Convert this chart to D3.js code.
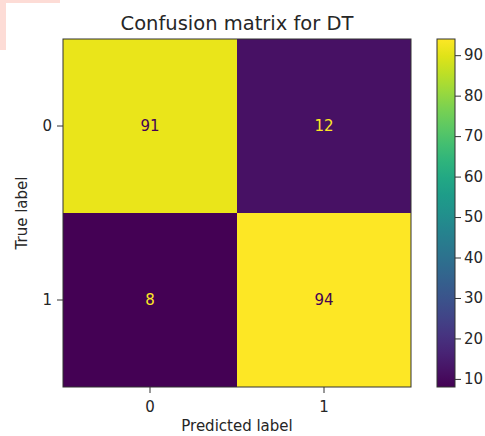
<!DOCTYPE html>
<html><head><meta charset="utf-8">
<script src="https://cdn.jsdelivr.net/npm/d3@7"></script>
<style>body{margin:0;background:#fff}svg{display:block;font-family:"DejaVu Sans",sans-serif}</style>
</head><body>
<svg id="c" width="485" height="436"></svg>
<script>
const trueLabels = ["0", "1"];
const predLabels = ["0", "1"];
const matrix = [[91, 12], [8, 94]];
const cbTicks = [10, 20, 30, 40, 50, 60, 70, 80, 90];
const title = "Confusion matrix for DT";

const svg = d3.select("#c");
// watermark remnants
svg.append("rect").attr("x",0).attr("y",0).attr("width",6).attr("height",50).attr("fill","#fddcd6");
svg.append("rect").attr("x",0).attr("y",0).attr("width",60).attr("height",3).attr("fill","#fddcd6");

const L = 63, T = 39, S = 348;
const x = d3.scaleBand().domain(predLabels).range([L, L + S]);
const y = d3.scaleBand().domain(trueLabels).range([T, T + S]);
const flat = matrix.flat();
const vmin = d3.min(flat), vmax = d3.max(flat);
const color = d3.scaleSequential(d3.interpolateViridis).domain([vmin, vmax]);

const cells = [];
trueLabels.forEach((t, i) => predLabels.forEach((p, j) => cells.push({t, p, v: matrix[i][j]})));

svg.selectAll("rect.cell").data(cells).join("rect").attr("class","cell")
  .attr("x", d => x(d.p)).attr("y", d => y(d.t))
  .attr("width", x.bandwidth()).attr("height", y.bandwidth())
  .attr("fill", d => color(d.v));

const fs = 15;
const mid = (vmin + vmax) / 2;
svg.selectAll("text.val").data(cells).join("text").attr("class","val")
  .attr("x", d => x(d.p) + x.bandwidth()/2).attr("y", d => y(d.t) + y.bandwidth()/2)
  .attr("text-anchor","middle").attr("dominant-baseline","central")
  .attr("font-size", fs)
  .attr("fill", d => d.v < mid ? color(vmax) : color(vmin))
  .text(d => d.v);

svg.append("rect").attr("x",L).attr("y",T).attr("width",S).attr("height",S)
  .attr("fill","none").attr("stroke","#333").attr("stroke-width",1);

const xAxis = svg.append("g").attr("transform",`translate(0,${T+S})`)
  .call(d3.axisBottom(x).tickSize(6).tickPadding(8));
const yAxis = svg.append("g").attr("transform",`translate(${L},0)`)
  .call(d3.axisLeft(y).tickSize(6).tickPadding(5));
[xAxis, yAxis].forEach(a => {
  a.select(".domain").remove();
  a.selectAll("text").attr("font-size", fs).attr("fill","#262626").attr("font-family","DejaVu Sans, sans-serif");
  a.selectAll("line").attr("stroke","#333");
});

svg.append("text").attr("x", L + S/2).attr("y", 30).attr("text-anchor","middle")
  .attr("font-size", 19.5).attr("fill","#262626").text(title);
svg.append("text").attr("x", L + S/2).attr("y", 431).attr("text-anchor","middle")
  .attr("font-size", fs).attr("fill","#262626").text("Predicted label");
svg.append("text").attr("transform",`translate(27,${T+S/2}) rotate(-90)`).attr("text-anchor","middle")
  .attr("font-size", fs).attr("fill","#262626").text("True label");

// colorbar
const cbX = 437, cbW = 18;
const cy = d3.scaleLinear().domain([vmin, vmax]).range([T + S, T]);
const defs = svg.append("defs");
const grad = defs.append("linearGradient").attr("id","vg").attr("x1",0).attr("y1",1).attr("x2",0).attr("y2",0);
d3.range(0, 1.0001, 0.05).forEach(t => grad.append("stop").attr("offset", t).attr("stop-color", d3.interpolateViridis(t)));
svg.append("rect").attr("x",cbX).attr("y",T).attr("width",cbW).attr("height",S)
  .attr("fill","url(#vg)").attr("stroke","#333").attr("stroke-width",1);
const cAxis = svg.append("g").attr("transform",`translate(${cbX+cbW},0)`)
  .call(d3.axisRight(cy).tickValues(cbTicks).tickSize(6).tickPadding(3));
cAxis.select(".domain").remove();
cAxis.selectAll("text").attr("font-size", fs).attr("fill","#262626").attr("font-family","DejaVu Sans, sans-serif");
cAxis.selectAll("line").attr("stroke","#333");
</script>
</body></html>
